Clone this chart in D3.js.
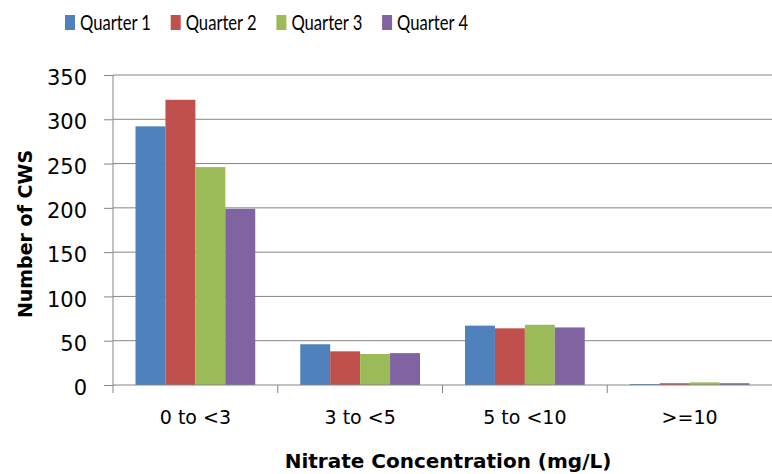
<!DOCTYPE html>
<html lang="en">
<head>
<meta charset="utf-8">
<title>Nitrate CWS</title>
<script src="https://cdn.jsdelivr.net/npm/d3@7"></script>
<style>
  body { margin: 0; background: #fff; }
  text { font-family: "DejaVu Sans", sans-serif; fill: #000; }
  .legend text { font-family: Lato, sans-serif; }
</style>
</head>
<body>
<script>
// data
var categories = ["0 to <3", "3 to <5", "5 to <10", ">=10"];
var quarters = ["Quarter 1", "Quarter 2", "Quarter 3", "Quarter 4"];
var q1 = [292, 46, 67, 1];
var q2 = [322, 38, 64, 2];
var q3 = [246, 35, 68, 3];
var q4 = [199, 36, 65, 2];
var yTicks = [0, 50, 100, 150, 200, 250, 300, 350];
var colors = ["#4f81bd", "#c0504d", "#9bbb59", "#8064a2"];

var series = [q1, q2, q3, q4];
var w = 772, h = 474;
var mLeft = 113, mRight = 772, mTop = 75, mBottom = 385;

var svg = d3.select("body").append("svg")
  .attr("width", w).attr("height", h);

var x = d3.scaleBand().domain(categories).range([mLeft, mRight]).paddingInner(0).paddingOuter(0);
var x1 = d3.scaleBand().domain(quarters).range([22.5, x.bandwidth() - 22.5]);
var y = d3.scaleLinear().domain([0, 350]).range([mBottom, mTop]);

// gridlines
svg.append("g").selectAll("line")
  .data(yTicks.slice(1))
  .enter().append("line")
  .attr("x1", mLeft).attr("x2", mRight)
  .attr("y1", function(d) { return y(d); })
  .attr("y2", function(d) { return y(d); })
  .attr("stroke", "#868686").attr("stroke-width", 1);

// bars
var groups = svg.append("g").selectAll("g")
  .data(categories)
  .enter().append("g")
  .attr("transform", function(d) { return "translate(" + x(d) + ",0)"; });

groups.selectAll("rect")
  .data(function(d, i) { return series.map(function(s, j) { return { q: quarters[j], v: s[i], c: colors[j] }; }); })
  .enter().append("rect")
  .attr("x", function(d) { return x1(d.q); })
  .attr("width", x1.bandwidth())
  .attr("y", function(d) { return y(d.v); })
  .attr("height", function(d) { return mBottom - y(d.v); })
  .attr("fill", function(d) { return d.c; });

// y axis
var yAxis = d3.axisLeft(y).tickValues(yTicks).tickSize(9).tickPadding(17);
var gy = svg.append("g")
  .attr("transform", "translate(" + mLeft + ",0)")
  .call(yAxis);
gy.select(".domain").attr("stroke", "#868686").attr("d", "M0," + mTop + "V" + (mBottom + 8));
gy.selectAll(".tick line").attr("stroke", "#868686");
gy.selectAll(".tick text").style("font-size", "21px").style("font-family", "'DejaVu Sans', sans-serif").attr("dy", "0.46em");

// x axis
var xAxis = d3.axisBottom(x).tickSize(0).tickPadding(26);
var gx = svg.append("g")
  .attr("transform", "translate(0," + mBottom + ")")
  .call(xAxis);
gx.select(".domain").attr("stroke", "#868686").attr("d", "M" + mLeft + ",0H" + mRight);
gx.selectAll(".tick text").style("font-size", "19px").style("font-family", "'DejaVu Sans', sans-serif");
gx.selectAll(".sep")
  .data(categories.slice(1))
  .enter().append("line")
  .attr("class", "sep")
  .attr("x1", function(d) { return x(d); })
  .attr("x2", function(d) { return x(d); })
  .attr("y1", 0).attr("y2", 8)
  .attr("stroke", "#868686");

// axis titles
svg.append("text")
  .attr("transform", "translate(31.5,234) rotate(-90)")
  .attr("text-anchor", "middle")
  .style("font-size", "19px").style("font-weight", "bold")
  .text("Number of CWS");

svg.append("text")
  .attr("x", 448).attr("y", 467.5)
  .attr("text-anchor", "middle")
  .style("font-size", "20px").style("font-weight", "bold")
  .text("Nitrate Concentration (mg/L)");

// legend (condensed text like the original)
var legend = svg.append("g").attr("class", "legend").selectAll("g")
  .data(quarters)
  .enter().append("g")
  .attr("transform", function(d, i) { return "translate(" + (65 + i * 105.7) + ",15)"; });
legend.append("rect")
  .attr("width", 10).attr("height", 15)
  .attr("fill", function(d, i) { return colors[i]; });
legend.append("text")
  .attr("x", 15).attr("y", 14.5)
  .attr("textLength", 71)
  .attr("lengthAdjust", "spacingAndGlyphs")
  .style("font-size", "21px")
  .text(function(d) { return d; });
</script>
</body>
</html>
